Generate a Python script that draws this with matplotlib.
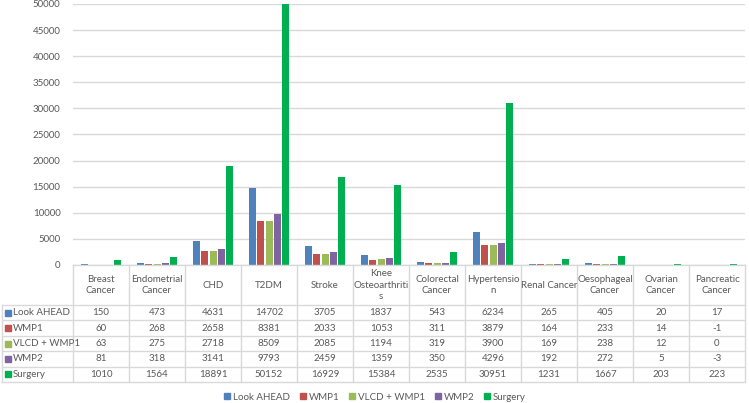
import matplotlib
matplotlib.use("Agg")
import matplotlib.pyplot as plt
from matplotlib.lines import Line2D
import numpy as np

plt.rcParams['font.family'] = ['Lato', 'DejaVu Sans']

categories = ["Breast\nCancer", "Endometrial\nCancer", "CHD", "T2DM", "Stroke",
              "Knee\nOsteoarthriti\ns", "Colorectal\nCancer", "Hypertensio\nn",
              "Renal Cancer", "Oesophageal\nCancer", "Ovarian\nCancer", "Pancreatic\nCancer"]
series_names = ["Look AHEAD", "WMP1", "VLCD + WMP1", "WMP2", "Surgery"]
look_ahead = [150, 473, 4631, 14702, 3705, 1837, 543, 6234, 265, 405, 20, 17]
wmp1 = [60, 268, 2658, 8381, 2033, 1053, 311, 3879, 164, 233, 14, -1]
vlcd_wmp1 = [63, 275, 2718, 8509, 2085, 1194, 319, 3900, 169, 238, 12, 0]
wmp2 = [81, 318, 3141, 9793, 2459, 1359, 350, 4296, 192, 272, 5, -3]
surgery = [1010, 1564, 18891, 50152, 16929, 15384, 2535, 30951, 1231, 1667, 203, 223]
colors = ["#4F81BD", "#C0504D", "#9BBB59", "#8064A2", "#00B050"]

all_series = [look_ahead, wmp1, vlcd_wmp1, wmp2, surgery]
txt = "#595959"
grid = "#D9D9D9"

W, H = 749, 403
fig = plt.figure(figsize=(W / 100, H / 100), dpi=100)

# bar area
ax = fig.add_axes([73 / W, 1 - 265 / H, (745 - 73) / W, (265 - 4) / H])
x = np.arange(len(categories))
step, bw = 0.15, 0.125
for i, (vals, c) in enumerate(zip(all_series, colors)):
    ax.bar(x + 0.5 + (i - 2) * step, vals, width=bw, color=c, zorder=3)
ax.set_xlim(0, len(categories))
ax.set_ylim(0, 50000)
ax.set_yticks(range(0, 50001, 5000))
ax.set_xticks([])
ax.tick_params(axis='y', length=0, pad=9, labelsize=7, labelcolor=txt)
ax.grid(axis='y', color=grid, linewidth=1, zorder=0)
for s in ax.spines.values():
    s.set_visible(False)

# data table
lw = 71 / 56
tab = fig.add_axes([2 / W, 1 - 382 / H, (745 - 2) / W, (382 - 265) / H])
tab.set_xlim(-lw, len(categories))
hdr, rh = 40, 15.4
tab.set_ylim(hdr + rh * 5, 0)
tab.axis('off')
n = len(categories)
tab.plot([0, n], [0, 0], color=grid, lw=1, clip_on=False)
for r in range(6):
    yy = hdr + rh * r
    tab.plot([-lw, n], [yy, yy], color=grid, lw=1, clip_on=False)
for k in range(n + 1):
    tab.plot([k, k], [0, hdr + rh * 5], color=grid, lw=1, clip_on=False)
tab.plot([-lw, -lw], [hdr, hdr + rh * 5], color=grid, lw=1, clip_on=False)

for k, cat in enumerate(categories):
    tab.text(k + 0.5, hdr / 2, cat, ha='center', va='center', fontsize=7,
             color=txt, linespacing=1.3)
for r, (name, vals, c) in enumerate(zip(series_names, all_series, colors)):
    yy = hdr + rh * (r + 0.5)
    tab.plot([-lw + 6 / 56], [yy], marker='s', ms=4, color=c, ls='none', clip_on=False)
    tab.text(-lw + 11 / 56, yy, name, ha='left', va='center', fontsize=7, color=txt)
    for k, v in enumerate(vals):
        tab.text(k + 0.5, yy, str(v), ha='center', va='center', fontsize=7, color=txt)

handles = [Line2D([], [], marker='s', ms=4, color=c, ls='none') for c in colors]
fig.legend(handles, series_names, loc='center', bbox_to_anchor=(0.5, 1 - 397 / H),
           ncol=5, frameon=False, fontsize=7, handlelength=0.8, handletextpad=0.2,
           columnspacing=0.9, labelcolor=txt)

fig.savefig("out.png", dpi=100)
